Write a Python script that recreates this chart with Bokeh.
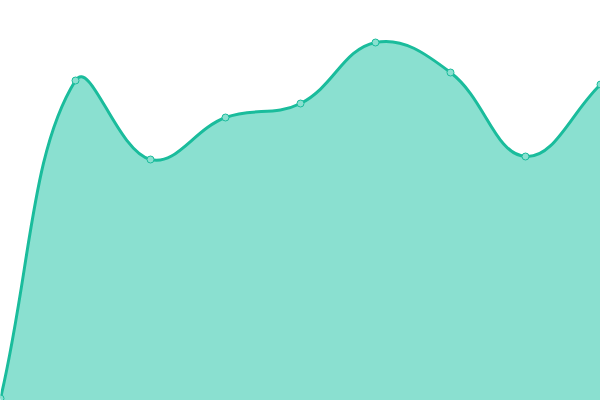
import numpy as np
from bokeh.plotting import figure
from bokeh.models import Range1d, GlobalInlineStyleSheet
from bokeh.embed import file_html
from bokeh.resources import INLINE

# data
categories = [0, 1, 2, 3, 4, 5, 6, 7, 8]
values = [2, 320, 241, 283, 297, 358, 328, 244, 316]

LINE = "#1abc9c"
FILL = "#8ae0d0"
W, H = 600, 400
TENSION = 0.4

p = figure(width=W, height=H, output_backend="svg", toolbar_location=None,
           x_range=Range1d(0, 8), y_range=Range1d(0, 400), min_border=0,
           background_fill_color="white", border_fill_color="white")
p.axis.visible = False
p.grid.visible = False
p.outline_line_color = None
p.stylesheets = [GlobalInlineStyleSheet(css="html,body{margin:0;padding:0;}")]

x = np.array(categories, dtype=float)
y = np.array(values, dtype=float)
n = len(x)
sx = W / 8.0  # px per x unit
sy = H / 400.0  # px per y unit

# tension spline (control points around each point, distance-weighted)
cprev_x = np.zeros(n); cprev_y = np.zeros(n)
cnext_x = np.zeros(n); cnext_y = np.zeros(n)
for i in range(n):
    pi = max(i - 1, 0); ni = min(i + 1, n - 1)
    d01 = np.hypot((x[i] - x[pi]) * sx, (y[i] - y[pi]) * sy)
    d12 = np.hypot((x[ni] - x[i]) * sx, (y[ni] - y[i]) * sy)
    tot = d01 + d12
    s01 = d01 / tot if tot else 0
    s12 = d12 / tot if tot else 0
    fa, fb = TENSION * s01, TENSION * s12
    dx, dy = x[ni] - x[pi], y[ni] - y[pi]
    cprev_x[i], cprev_y[i] = x[i] - fa * dx, y[i] - fa * dy
    cnext_x[i], cnext_y[i] = x[i] + fb * dx, y[i] + fb * dy
cprev_y = np.clip(cprev_y, 0, 400); cnext_y = np.clip(cnext_y, 0, 400)

x0, y0 = x[:-1], y[:-1]
x1, y1 = x[1:], y[1:]
cx0, cy0 = cnext_x[:-1], cnext_y[:-1]
cx1, cy1 = cprev_x[1:], cprev_y[1:]

# sampled curve for the filled area
t = np.linspace(0, 1, 40)[:, None]
bx = ((1 - t) ** 3 * x0 + 3 * (1 - t) ** 2 * t * cx0 + 3 * (1 - t) * t ** 2 * cx1 + t ** 3 * x1).T.ravel()
by = ((1 - t) ** 3 * y0 + 3 * (1 - t) ** 2 * t * cy0 + 3 * (1 - t) * t ** 2 * cy1 + t ** 3 * y1).T.ravel()
p.varea(x=bx, y1=np.zeros_like(by), y2=by, fill_color=FILL, fill_alpha=1)

p.bezier(x0=x0, y0=y0, x1=x1, y1=y1, cx0=cx0, cy0=cy0, cx1=cx1, cy1=cy1,
         line_color=LINE, line_width=3)
p.scatter(x, y, size=7, fill_color=FILL, line_color=LINE, line_width=1)

open("out.html", "w").write(file_html(p, INLINE))
